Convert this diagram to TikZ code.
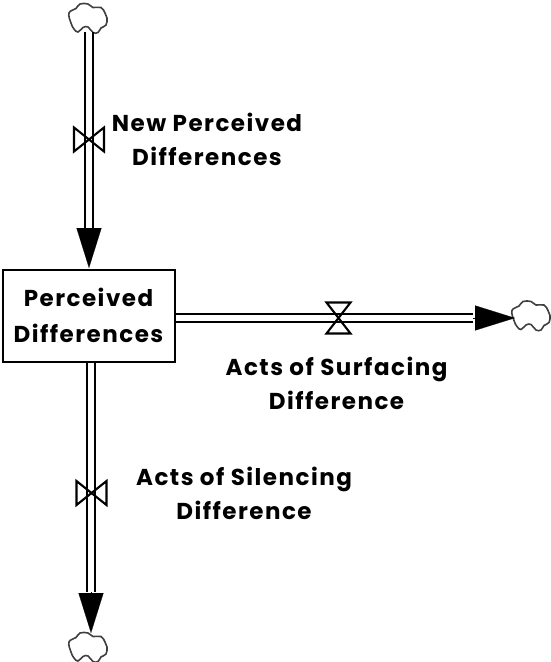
\documentclass[tikz,border=0pt]{standalone}
\usepackage{fontspec}
\setmainfont[LetterSpace=6.5]{Poppins}
\usetikzlibrary{arrows.meta}
\tikzset{
  x=1pt,y=-1pt,
  pipe/.style={double,double distance=6pt,line width=1.9pt,draw=black},
  headline/.style={line width=0.1pt,-{Triangle[length=40pt,width=25pt,fill=black]}},
  stockbox/.style={draw=black,line width=2pt,fill=white,minimum width=172pt,minimum height=92pt,inner sep=0pt,align=center},
  txtlabel/.style={font=\bfseries\fontsize{23}{34}\selectfont,align=center,inner sep=0pt,text=black},
  anchorbox/.style={inner sep=0pt,minimum size=0pt},
  valveline/.style={draw=black,line width=2.1pt,line join=miter},
  cloudline/.style={draw=black!75,line width=1.6pt,fill=white},
  pics/cloud/.style={code={
    \draw[cloudline] plot[smooth cycle,tension=0.7] coordinates {
      (-19,-5) (-12,-9.5) (-8,-14) (0,-14) (5,-10.5) (13,-10.5) (17,-5)
      (19,0) (18,7) (13,10) (10,14.5) (5,14.5) (0,9) (-5,9.5) (-10,14) (-14,11) (-17,5)};
  }},
}
\begin{document}
\begin{tikzpicture}
\useasboundingbox (0,0) rectangle (550,662);
% stock
\node[stockbox,font=\bfseries\fontsize{23}{36.5}\selectfont] (stock) at (88.5,315.5) {Perceived\\Differences};
% clouds
\node[anchorbox] (cloudTop) at (88,18) {};
\node[anchorbox] (cloudRight) at (531,315.5) {};
\node[anchorbox] (cloudBottom) at (88,647) {};
\pic at (cloudTop) {cloud};
\pic at (cloudRight) {cloud};
\pic at (cloudBottom) {cloud};
% arrow bases
\coordinate (headTop) at (89,228);
\coordinate (tipTop) at (89,268);
\coordinate (headRight) at (473,318);
\coordinate (tipRight) at (515,318);
\coordinate (headBottom) at (91,592);
\coordinate (tipBottom) at (91,633);
% pipes
\draw[pipe] (headTop |- cloudTop.south) ++(0,14) -- (headTop);
\draw[pipe] (stock.east |- headRight) -- (headRight);
\draw[pipe] (headBottom |- stock.south) -- (headBottom);
% arrowheads
\draw[headline] (headTop) -- (tipTop);
\draw[headline] (headRight) -- (tipRight);
\draw[headline] (headBottom) -- (tipBottom);
% valves
\coordinate (valveTop) at (89,139.5);
\coordinate (valveRight) at (338.5,318);
\coordinate (valveBottom) at (91.5,493);
\draw[valveline] ([shift={(-15,-12)}]valveTop) -- ([shift={(15,12)}]valveTop) -- ([shift={(15,-12)}]valveTop) -- ([shift={(-15,12)}]valveTop) -- cycle;
\draw[valveline] ([shift={(-12,-15.5)}]valveRight) -- ([shift={(12,-15.5)}]valveRight) -- ([shift={(-12,15.5)}]valveRight) -- ([shift={(12,15.5)}]valveRight) -- cycle;
\draw[valveline] ([shift={(-15,-12)}]valveBottom) -- ([shift={(15,12)}]valveBottom) -- ([shift={(15,-12)}]valveBottom) -- ([shift={(-15,12)}]valveBottom) -- cycle;
% labels
\node[txtlabel] (lblNew) at (207,139) {New Perceived\\Differences};
\node[txtlabel] (lblSurf) at (336.5,383) {Acts of Surfacing\\Difference};
\node[txtlabel] (lblSil) at (244,493.5) {Acts of Silencing\\Difference};
\end{tikzpicture}
\end{document}
